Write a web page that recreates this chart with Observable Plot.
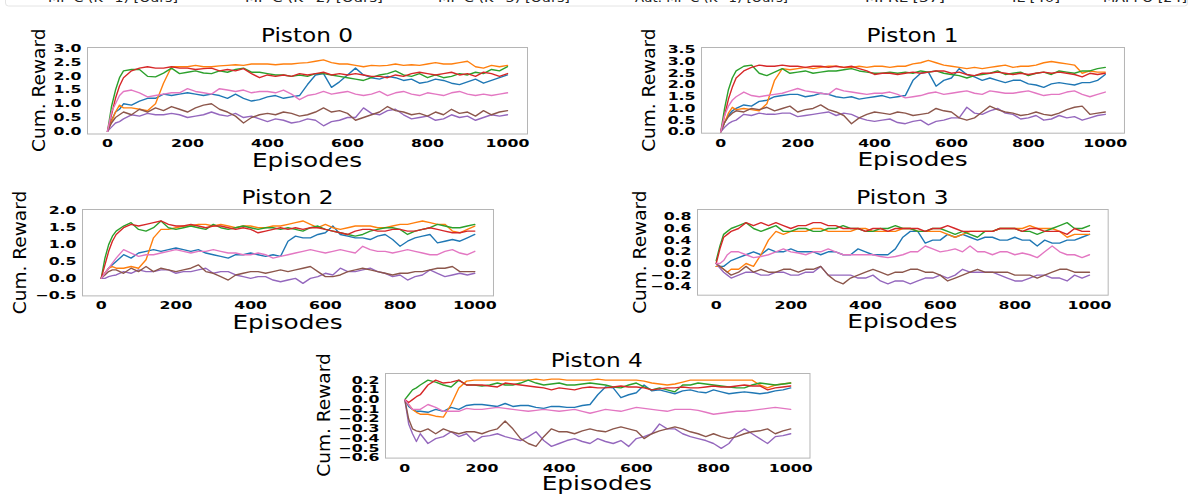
<!DOCTYPE html>
<html><head><meta charset="utf-8">
<script src="https://cdn.jsdelivr.net/npm/d3@7"></script>
<script src="https://cdn.jsdelivr.net/npm/@observablehq/plot@0.6"></script>
<style>
html,body{margin:0;padding:0;background:#fff;}
#fig{position:relative;width:1196px;height:499px;overflow:hidden;background:#fff;}
#fig svg{position:absolute;overflow:visible;}
</style></head><body><div id="fig"></div>
<script>
// ---------- data ----------
const episodes = [0,10,20,30,40,60,80,100,120,140,160,180,200,220,240,260,280,300,320,340,360,380,400,420,440,460,480,500,520,540,560,580,600,620,640,660,680,700,720,740,760,780,800,820,840,860,880,900,920,940,960,980,1000];
const seriesNames = ["MF-C (K=1) [Ours]","MF-C (K=2) [Ours]","MF-C (K=3) [Ours]","Aut. MF-C (K=1) [Ours]","MFRL [37]","IL [40]","MAPPO [24]"];
const seriesColors = ["#1f77b4","#ff7f0e","#2ca02c","#d62728","#9467bd","#8c564b","#e377c2"];
const xTicks = [0,200,400,600,800,1000];
const yTicks0 = [0,0.5,1,1.5,2,2.5,3];
const yTicks1 = [0,0.5,1,1.5,2,2.5,3,3.5];
const yTicks2 = [-0.5,0,0.5,1,1.5,2];
const yTicks3 = [-0.4,-0.2,0,0.2,0.4,0.6,0.8];
const yTicks4 = [-0.6,-0.5,-0.4,-0.3,-0.2,-0.1,0,0.1,0.2];
const panelTitles = ["Piston 0","Piston 1","Piston 2","Piston 3","Piston 4"];

const p0Blue = [0,0.4,0.7,0.8,1.0,0.95,1.1,1.2,1.2,1.35, 1.3,1.35,1.4,1.35,1.3,1.35,1.3,1.2,1.35,1.2, 1.1,1.15,1.25,1.3,1.2,1.25,1.3,1.7,2.05,2.1, 1.6,1.8,2.05,2.3,2.05,1.95,1.9,2.0,1.95,1.85, 1.9,1.75,1.8,1.9,1.85,1.75,1.7,1.8,1.9,1.75, 1.85,1.95,2.05];
const p0Orange = [0,0.35,0.7,0.95,0.85,0.85,0.8,0.75,1.0,1.75, 2.35,2.35,2.35,2.4,2.35,2.35,2.38,2.4,2.42,2.4, 2.45,2.45,2.45,2.42,2.45,2.45,2.48,2.5,2.55,2.6, 2.5,2.45,2.45,2.4,2.35,2.4,2.38,2.4,2.45,2.4, 2.42,2.4,2.45,2.5,2.45,2.45,2.5,2.55,2.35,2.3, 2.4,2.35,2.4];
const p0Green = [0,0.9,1.5,1.95,2.2,2.25,2.25,2.0,1.98,2.12, 2.3,2.1,2.15,2.2,2.12,2.1,2.2,2.15,2.25,2.3, 2.15,2.15,2.1,2.05,2.05,2.0,2.05,2.0,2.1,2.1, 2.05,2.0,1.95,1.9,1.85,1.95,2.05,2.1,2.2,2.05, 2.0,2.1,1.95,2.05,1.95,2.0,2.1,2.05,2.15,2.1, 2.25,2.2,2.35];
const p0Red = [0,0.6,1.2,1.65,1.95,2.2,2.3,2.35,2.3,2.3, 2.35,2.3,2.3,2.25,2.28,2.3,2.2,2.25,2.2,2.28, 2.1,1.95,2.05,2.0,2.05,2.0,2.1,2.05,2.1,2.15, 2.05,2.1,2.05,2.1,2.05,2.0,2.0,1.95,2.05,2.0, 2.1,2.15,2.1,2.05,2.1,2.15,2.05,2.1,2.0,2.15, 2.1,2.0,2.1];
const p0Purple = [0,0.15,0.3,0.35,0.45,0.6,0.55,0.65,0.6,0.6, 0.65,0.6,0.5,0.55,0.6,0.7,0.6,0.55,0.65,0.5, 0.55,0.45,0.35,0.45,0.4,0.3,0.35,0.45,0.4,0.2, 0.35,0.4,0.5,0.5,0.85,0.65,0.6,0.75,0.8,0.6, 0.45,0.5,0.55,0.4,0.45,0.6,0.5,0.55,0.4,0.5, 0.6,0.55,0.6];
const p0Brown = [0,0.3,0.5,0.6,0.7,0.6,0.8,0.7,0.85,0.75, 0.9,0.8,0.7,0.85,0.95,1.0,0.8,0.7,0.55,0.3, 0.5,0.6,0.65,0.6,0.7,0.65,0.55,0.6,0.7,0.85, 0.7,0.75,0.65,0.4,0.5,0.6,0.7,0.9,0.75,0.7, 0.6,0.65,0.55,0.7,0.6,0.8,0.65,0.7,0.55,0.75, 0.6,0.7,0.75];
const p0Pink = [0,0.7,1.0,1.3,1.45,1.5,1.4,1.25,1.3,1.35, 1.4,1.4,1.55,1.45,1.4,1.35,1.55,1.5,1.45,1.5, 1.4,1.45,1.45,1.4,1.5,1.35,1.15,1.3,1.35,1.45, 1.35,1.4,1.45,1.35,1.3,1.35,1.45,1.3,1.4,1.45, 1.35,1.3,1.4,1.35,1.3,1.4,1.45,1.35,1.3,1.35, 1.3,1.35,1.4];

const p1Blue = [0,0.4,0.7,0.9,1.0,1.15,1.1,1.3,1.35,1.5, 1.55,1.6,1.6,1.5,1.55,1.65,1.6,1.5,1.45,1.5, 1.4,1.45,1.5,1.55,1.45,1.5,1.55,2.2,2.5,2.55, 1.95,2.2,2.3,2.7,2.45,2.35,2.2,2.3,2.2,2.1, 2.2,2.2,2.05,2.0,1.9,2.05,2.1,2.05,2.0,2.1, 2.1,2.2,2.45];
const p1Orange = [0,0.4,0.8,1.05,0.95,1.0,0.95,0.9,1.2,2.2, 2.7,2.65,2.7,2.75,2.7,2.75,2.8,2.8,2.75,2.75, 2.8,2.75,2.8,2.8,2.75,2.8,2.8,2.9,2.95,3.05, 2.95,2.85,2.8,2.75,2.7,2.75,2.7,2.75,2.8,2.85, 2.75,2.8,2.8,2.85,2.95,3.0,2.95,2.9,2.85,2.5, 2.6,2.55,2.55];
const p1Green = [0,1.0,1.8,2.3,2.6,2.8,2.85,2.5,2.4,2.55, 2.7,2.5,2.55,2.6,2.5,2.55,2.6,2.6,2.65,2.7, 2.6,2.55,2.5,2.5,2.55,2.5,2.55,2.5,2.6,2.55, 2.6,2.5,2.45,2.4,2.3,2.4,2.45,2.5,2.6,2.45, 2.5,2.55,2.4,2.5,2.55,2.45,2.6,2.55,2.5,2.6, 2.6,2.7,2.75];
const p1Red = [0,0.7,1.4,1.9,2.3,2.6,2.75,2.85,2.8,2.8, 2.85,2.8,2.8,2.75,2.8,2.8,2.75,2.8,2.75,2.8, 2.7,2.6,2.45,2.5,2.5,2.45,2.5,2.55,2.5,2.55, 2.6,2.6,2.5,2.55,2.45,2.4,2.5,2.5,2.55,2.5, 2.45,2.5,2.45,2.5,2.55,2.5,2.55,2.5,2.45,2.35, 2.5,2.45,2.5];
const p1Purple = [0,0.2,0.35,0.45,0.5,0.75,0.7,0.8,0.75,0.75, 0.8,0.8,0.65,0.7,0.75,0.8,0.85,0.7,0.8,0.75, 0.6,0.5,0.45,0.5,0.55,0.4,0.35,0.45,0.5,0.3, 0.45,0.5,0.6,0.6,1.05,0.8,0.75,0.9,1.0,0.8, 0.75,0.55,0.6,0.7,0.5,0.55,0.7,0.6,0.65,0.5, 0.6,0.7,0.75];
const p1Brown = [0,0.4,0.65,0.8,0.9,0.85,1.0,0.95,1.05,0.9, 1.0,1.1,0.85,0.95,1.0,1.15,0.95,0.85,0.7,0.35, 0.6,0.75,0.85,0.8,0.75,0.85,0.8,0.7,0.75,0.8, 1.0,0.9,0.85,0.6,0.5,0.6,0.85,1.1,0.95,0.85, 0.8,0.7,0.75,0.85,0.75,0.7,0.8,0.95,1.05,1.1, 0.75,0.8,0.85];
const p1Pink = [0,0.7,1.1,1.35,1.5,1.7,1.55,1.5,1.55,1.6, 1.65,1.75,1.85,1.75,1.7,1.65,1.6,1.85,1.75,1.7, 1.65,1.6,1.65,1.65,1.7,1.6,1.45,1.5,1.55,1.65, 1.7,1.6,1.65,1.7,1.75,1.65,1.6,1.75,1.7,1.65, 1.65,1.7,1.75,1.65,1.55,1.6,1.6,1.7,1.75,1.6, 1.5,1.6,1.7];

const p2Blue = [0,0.15,0.3,0.4,0.5,0.7,0.6,0.75,0.8,0.85, 0.8,0.85,0.9,0.85,0.8,0.85,0.75,0.7,0.65,0.6, 0.7,0.7,0.75,0.7,0.65,0.7,0.65,1.1,1.25,1.2, 1.2,1.3,1.35,1.55,1.3,1.25,1.2,1.2,1.15,1.25, 1.3,1.15,0.95,1.1,1.2,1.25,1.3,1.05,1.1,1.15, 1.1,1.2,1.3];
const p2Orange = [0,0.15,0.3,0.35,0.3,0.3,0.35,0.3,0.55,1.2, 1.45,1.45,1.5,1.55,1.55,1.6,1.6,1.55,1.6,1.55, 1.5,1.55,1.55,1.5,1.5,1.55,1.55,1.6,1.65,1.7, 1.6,1.5,1.6,1.5,1.45,1.5,1.55,1.55,1.55,1.5, 1.5,1.55,1.6,1.6,1.65,1.7,1.65,1.6,1.6,1.4, 1.35,1.45,1.55];
const p2Green = [0,0.6,1.0,1.25,1.4,1.55,1.65,1.45,1.4,1.5, 1.7,1.5,1.45,1.5,1.55,1.5,1.45,1.6,1.5,1.45, 1.5,1.55,1.5,1.45,1.5,1.5,1.45,1.5,1.45,1.4, 1.5,1.55,1.45,1.4,1.35,1.3,1.25,1.3,1.4,1.45, 1.5,1.5,1.45,1.3,1.4,1.45,1.5,1.6,1.55,1.5, 1.5,1.55,1.6];
const p2Red = [0,0.4,0.8,1.1,1.3,1.5,1.6,1.55,1.6,1.65, 1.7,1.6,1.55,1.55,1.6,1.55,1.5,1.55,1.55,1.5, 1.45,1.5,1.45,1.35,1.4,1.45,1.5,1.45,1.5,1.45, 1.5,1.5,1.45,1.4,1.35,1.3,1.4,1.45,1.45,1.4, 1.4,1.45,1.45,1.4,1.4,1.45,1.5,1.45,1.4,1.35, 1.35,1.4,1.4];
const p2Purple = [0,0.0,0.05,0.08,0.1,0.2,0.15,0.25,0.2,0.2, 0.25,0.25,0.15,0.2,0.2,0.25,0.3,0.15,0.2,0.2, 0.1,0.05,0.0,0.05,0.05,-0.05,-0.1,-0.05,0.0,-0.15, 0.0,0.05,0.15,0.1,0.3,0.2,0.2,0.25,0.3,0.2, 0.15,0.05,0.1,-0.05,0.05,0.1,0.25,0.15,0.05,0.1, 0.15,0.1,0.15];
const p2Brown = [0,0.1,0.2,0.25,0.25,0.15,0.3,0.2,0.35,0.2, 0.3,0.25,0.2,0.25,0.3,0.4,0.2,0.15,0.05,-0.05, 0.1,0.15,0.2,0.2,0.15,0.2,0.25,0.2,0.25,0.3, 0.35,0.2,0.05,0.05,0.1,0.2,0.25,0.3,0.25,0.2, 0.15,0.1,0.15,0.15,0.2,0.2,0.25,0.3,0.3,0.35, 0.2,0.2,0.2];
const p2Pink = [0,0.15,0.3,0.45,0.6,0.85,0.75,0.65,0.7,0.7, 0.75,0.8,0.85,0.8,0.75,0.8,0.8,0.85,0.8,0.75, 0.75,0.7,0.7,0.75,0.7,0.6,0.65,0.7,0.75,0.8, 0.85,0.8,0.75,0.8,0.85,0.8,0.75,0.95,0.85,0.8, 0.8,0.75,0.8,0.85,0.8,0.75,0.7,0.7,0.8,0.85, 0.75,0.7,0.8];

const p3Blue = [-0.05,-0.05,-0.05,0.0,0.05,0.1,0.15,0.2,0.15,0.25, 0.2,0.2,0.25,0.2,0.2,0.2,0.15,0.2,0.2,0.15, 0.15,0.25,0.2,0.15,0.15,0.15,0.25,0.45,0.55,0.55, 0.35,0.4,0.4,0.5,0.45,0.5,0.45,0.4,0.45,0.45, 0.4,0.4,0.45,0.4,0.4,0.3,0.4,0.35,0.35,0.4, 0.4,0.45,0.5];
const p3Orange = [-0.05,-0.05,-0.1,-0.15,-0.1,-0.1,0.0,-0.05,0.15,0.4, 0.55,0.5,0.55,0.55,0.55,0.6,0.6,0.55,0.55,0.55, 0.55,0.6,0.6,0.55,0.55,0.55,0.55,0.6,0.6,0.55, 0.55,0.55,0.55,0.5,0.45,0.5,0.55,0.55,0.55,0.55, 0.6,0.6,0.6,0.6,0.65,0.6,0.6,0.6,0.55,0.45, 0.5,0.5,0.5];
const p3Green = [0.05,0.3,0.5,0.55,0.6,0.65,0.7,0.6,0.55,0.6, 0.65,0.55,0.55,0.6,0.6,0.55,0.55,0.6,0.6,0.65, 0.6,0.6,0.55,0.55,0.6,0.6,0.65,0.6,0.6,0.55, 0.55,0.6,0.6,0.55,0.5,0.55,0.5,0.45,0.55,0.55, 0.6,0.6,0.6,0.55,0.55,0.5,0.55,0.6,0.65,0.7, 0.6,0.6,0.65];
const p3Red = [0,0.25,0.45,0.5,0.55,0.6,0.7,0.65,0.7,0.65, 0.7,0.65,0.6,0.65,0.65,0.7,0.7,0.65,0.65,0.6, 0.6,0.6,0.55,0.6,0.6,0.55,0.6,0.6,0.6,0.6, 0.55,0.6,0.6,0.65,0.6,0.55,0.55,0.55,0.55,0.55, 0.6,0.6,0.6,0.55,0.6,0.6,0.55,0.55,0.55,0.5, 0.6,0.55,0.55];
const p3Purple = [0,-0.08,-0.15,-0.2,-0.25,-0.2,-0.15,-0.15,-0.2,-0.2, -0.15,-0.15,-0.2,-0.2,-0.15,-0.15,-0.05,-0.2,-0.2,-0.2, -0.2,-0.25,-0.25,-0.2,-0.3,-0.35,-0.3,-0.3,-0.35,-0.3, -0.25,-0.25,-0.2,-0.25,-0.2,-0.1,-0.15,-0.15,-0.15,-0.15, -0.2,-0.25,-0.3,-0.3,-0.25,-0.2,-0.2,-0.25,-0.25,-0.3, -0.2,-0.25,-0.2];
const p3Brown = [0,-0.05,-0.1,-0.15,-0.2,-0.15,-0.05,-0.15,-0.1,-0.15, -0.15,-0.1,-0.1,-0.15,-0.1,-0.1,-0.05,-0.2,-0.3,-0.35, -0.25,-0.2,-0.15,-0.1,-0.15,-0.2,-0.15,-0.15,-0.1,-0.1, -0.15,-0.15,-0.2,-0.3,-0.25,-0.2,-0.15,-0.1,-0.15,-0.15, -0.15,-0.15,-0.2,-0.2,-0.2,-0.25,-0.2,-0.15,-0.1,-0.1, -0.15,-0.15,-0.15];
const p3Pink = [0,0,0.05,0.15,0.2,0.2,0.15,0.1,0.12,0.15, 0.2,0.25,0.2,0.18,0.15,0.2,0.2,0.25,0.2,0.15, 0.15,0.15,0.15,0.15,0.12,0.1,0.12,0.15,0.2,0.2, 0.3,0.25,0.2,0.22,0.25,0.2,0.3,0.2,0.2,0.15, 0.2,0.2,0.15,0.18,0.15,0.1,0.2,0.3,0.2,0.15, 0.15,0.1,0.15];

const p4Blue = [0,-0.07,-0.1,-0.12,-0.12,-0.13,-0.1,-0.12,-0.08,-0.1, -0.06,-0.05,-0.05,-0.06,-0.07,-0.04,-0.07,-0.06,-0.06,-0.08, -0.09,-0.07,-0.07,-0.08,-0.08,-0.06,-0.05,0.05,0.13,0.12, 0.02,0.05,0.07,0.15,0.09,0.1,0.08,0.06,0.09,0.1, 0.08,0.07,0.1,0.08,0.06,0.07,0.08,0.07,0.06,0.07, 0.09,0.1,0.12];
const p4Orange = [0,-0.05,-0.1,-0.13,-0.15,-0.15,-0.17,-0.18,-0.05,0.12, 0.19,0.2,0.2,0.2,0.2,0.2,0.2,0.2,0.2,0.21, 0.2,0.21,0.21,0.2,0.2,0.2,0.2,0.21,0.2,0.2, 0.2,0.2,0.2,0.19,0.17,0.16,0.15,0.16,0.18,0.2, 0.2,0.2,0.2,0.2,0.2,0.2,0.2,0.2,0.15,0.12, 0.15,0.16,0.17];
const p4Green = [0,0.05,0.1,0.12,0.15,0.2,0.18,0.15,0.13,0.2, 0.15,0.15,0.14,0.15,0.17,0.15,0.15,0.17,0.2,0.17, 0.15,0.16,0.17,0.15,0.15,0.16,0.17,0.16,0.15,0.13, 0.12,0.15,0.17,0.13,0.1,0.12,0.1,0.08,0.15,0.15, 0.17,0.16,0.15,0.14,0.13,0.12,0.12,0.15,0.17,0.16, 0.15,0.16,0.17];
const p4Red = [0,-0.03,0,0.03,0.05,0.15,0.2,0.17,0.18,0.2, 0.15,0.15,0.15,0.14,0.13,0.17,0.16,0.15,0.14,0.13, 0.12,0.1,0.12,0.11,0.1,0.12,0.13,0.12,0.12,0.13, 0.14,0.13,0.13,0.12,0.1,0.11,0.12,0.12,0.13,0.12, 0.12,0.13,0.14,0.13,0.13,0.14,0.15,0.14,0.14,0.1, 0.12,0.13,0.14];
const p4Purple = [0,-0.25,-0.35,-0.43,-0.35,-0.45,-0.4,-0.38,-0.33,-0.38, -0.35,-0.43,-0.38,-0.37,-0.35,-0.38,-0.4,-0.42,-0.38,-0.33, -0.42,-0.48,-0.45,-0.42,-0.4,-0.43,-0.45,-0.4,-0.43,-0.45, -0.42,-0.48,-0.4,-0.38,-0.35,-0.25,-0.3,-0.3,-0.35,-0.38, -0.4,-0.42,-0.45,-0.5,-0.45,-0.35,-0.3,-0.35,-0.4,-0.45, -0.38,-0.37,-0.35];
const p4Brown = [0,-0.2,-0.3,-0.32,-0.33,-0.3,-0.35,-0.3,-0.33,-0.35, -0.33,-0.33,-0.35,-0.32,-0.3,-0.22,-0.3,-0.4,-0.45,-0.48, -0.38,-0.3,-0.33,-0.33,-0.35,-0.32,-0.3,-0.32,-0.33,-0.3, -0.28,-0.3,-0.32,-0.4,-0.35,-0.32,-0.3,-0.28,-0.3,-0.33, -0.35,-0.38,-0.35,-0.38,-0.4,-0.38,-0.35,-0.33,-0.32,-0.3, -0.35,-0.32,-0.3];
const p4Pink = [0,-0.05,-0.1,-0.1,-0.1,-0.05,-0.08,-0.12,-0.12,-0.12, -0.09,-0.1,-0.1,-0.09,-0.08,-0.09,-0.1,-0.11,-0.12,-0.11, -0.1,-0.11,-0.12,-0.11,-0.1,-0.12,-0.14,-0.12,-0.1,-0.11, -0.12,-0.1,-0.08,-0.09,-0.1,-0.11,-0.12,-0.1,-0.1,-0.1, -0.11,-0.13,-0.15,-0.14,-0.13,-0.12,-0.12,-0.11,-0.1,-0.09, -0.08,-0.09,-0.1];

// ---------- layout ----------
const panels = [
  {title: panelTitles[0], values:[p0Blue,p0Orange,p0Green,p0Red,p0Purple,p0Brown,p0Pink], yTicks:yTicks0, yDomain:[-0.10,3.05], left:87, right:527, top:47, bottom:133.5, ylab:42},
  {title: panelTitles[1], values:[p1Blue,p1Orange,p1Green,p1Red,p1Purple,p1Brown,p1Pink], yTicks:yTicks1, yDomain:[-0.055,3.6], left:701, right:1124, top:47.3, bottom:133, ylab:46},
  {title: panelTitles[2], values:[p2Blue,p2Orange,p2Green,p2Red,p2Purple,p2Brown,p2Pink], yTicks:yTicks2, yDomain:[-0.52,2.04], left:82, right:493, top:209.3, bottom:295.7, ylab:56},
  {title: panelTitles[3], values:[p3Blue,p3Orange,p3Green,p3Red,p3Purple,p3Brown,p3Pink], yTicks:yTicks3, yDomain:[-0.544,0.926], left:697, right:1107.7, top:209.3, bottom:295, ylab:51},
  {title: panelTitles[4], values:[p4Blue,p4Orange,p4Green,p4Red,p4Purple,p4Brown,p4Pink], yTicks:yTicks4, yDomain:[-0.6,0.268], left:384.5, right:809, top:372.7, bottom:457.3, ylab:55}
];

panels.forEach((p,pi)=>p.values.forEach((arr,i)=>{ if(arr.length!==episodes.length) throw new Error("panel "+pi+" series "+i+" length "+arr.length); }));

const fig = document.getElementById("fig");
function stretch(root, k) {
  root.querySelectorAll("text").forEach(t => {
    const L = t.getComputedTextLength();
    if (L > 0) { t.setAttribute("textLength", (L*k).toFixed(2)); t.setAttribute("lengthAdjust","spacingAndGlyphs"); }
  });
}

const ML=58, MR=6, MT=4, MB=24;
panels.forEach(p => {
  const data = seriesNames.flatMap((s,i)=> p.values[i].map((v,j)=>({episode: episodes[j], reward: v, method: s})));
  const plot = Plot.plot({
    width: p.right - p.left + ML + MR,
    height: p.bottom - p.top + MT + MB,
    marginLeft: ML, marginRight: MR, marginTop: MT, marginBottom: MB,
    style: {fontFamily:"'DejaVu Sans', sans-serif", fontSize:"10.5px", fontWeight:"bold", color:"#000", background:"transparent", overflow:"visible"},
    x: {domain:[-50,1050], ticks:xTicks, tickFormat:d=>String(d), tickSize:0, tickPadding:6, label:null},
    y: {domain:p.yDomain, ticks:p.yTicks, tickFormat:d3.format(".1f"), tickSize:0, tickPadding:6, label:null},
    color: {domain:seriesNames, range:seriesColors},
    marks: [
      Plot.lineY(data, {x:"episode", y:"reward", stroke:"method", strokeWidth:1.4, clip:true}),
      Plot.frame({stroke:"#b5b5b5", strokeWidth:1})
    ]
  });
  plot.style.left = (p.left-ML)+"px";
  plot.style.top = (p.top-MT)+"px";
  fig.appendChild(plot);
  stretch(plot, 1.5);
});

// ---------- overlay: titles, axis labels, legend ----------
const ov = d3.select(fig).append("svg")
  .attr("width",1196).attr("height",499)
  .style("left","0px").style("top","0px").style("pointer-events","none")
  .style("font-family","'DejaVu Sans', sans-serif");

function stretchedText(sel, k, target) {
  const node = sel.node();
  const L = node.getComputedTextLength();
  sel.attr("textLength", target != null ? target : L*k).attr("lengthAdjust","spacingAndGlyphs");
}

panels.forEach(p => {
  const cx = (p.left+p.right)/2, cy = (p.top+p.bottom)/2;
  stretchedText(ov.append("text").attr("x",cx).attr("y",p.top-5.5).attr("text-anchor","middle")
    .attr("font-size",19.5).attr("fill","#000").text(p.title), 1.19);
  stretchedText(ov.append("text").attr("x",cx).attr("y",p.bottom+33).attr("text-anchor","middle")
    .attr("font-size",19.2).attr("fill","#000").text("Episodes"), 1.29);
  stretchedText(ov.append("text").attr("transform",`translate(${p.left-p.ylab},${cy}) rotate(-90)`).attr("text-anchor","middle")
    .attr("font-size",18.5).attr("fill","#000").text("Cum. Reward"), 1.0);
});

// legend (mostly cropped off at the top of the figure)
ov.append("rect").attr("x",5.5).attr("y",-22).attr("width",1182).attr("height",28).attr("rx",3)
  .attr("fill","#fff").attr("stroke","#e4e4e4");
const legendX = [48,245,438,635,865,1012,1103];
const legendW = [130,138,132,153,80,48,84];
seriesNames.forEach((s,i)=>{
  ov.append("line").attr("x1",legendX[i]-30).attr("x2",legendX[i]-8).attr("y1",-4).attr("y2",-4)
    .attr("stroke",seriesColors[i]).attr("stroke-width",2);
  stretchedText(ov.append("text").attr("x",legendX[i]).attr("y",2.3).attr("font-size",12.5).attr("fill","#222").text(s), 1, legendW[i]);
});
</script>
</body></html>
